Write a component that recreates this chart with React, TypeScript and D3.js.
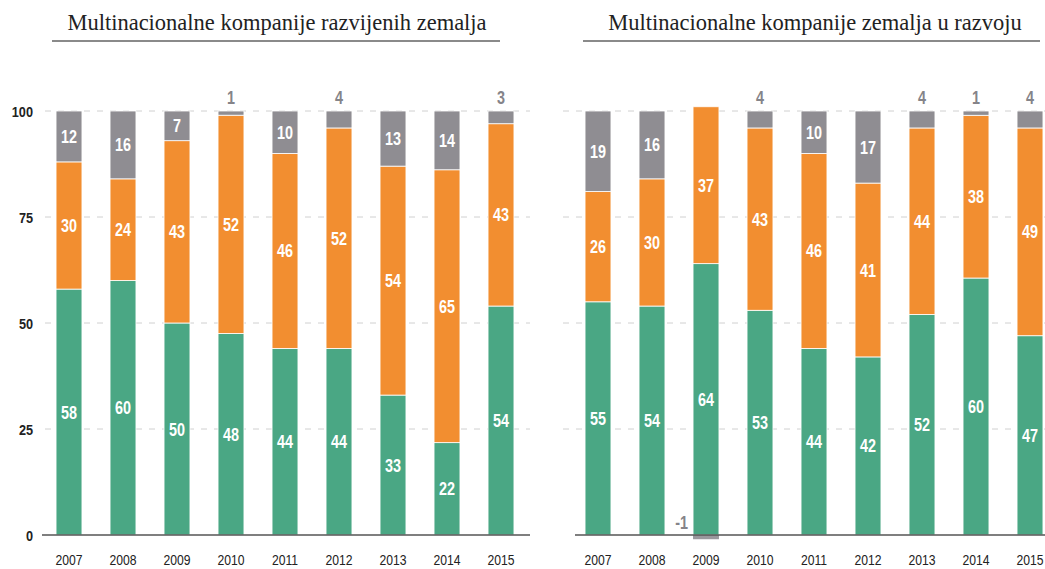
import React from "react";
import * as d3 from "d3";

const years = ["2007", "2008", "2009", "2010", "2011", "2012", "2013", "2014", "2015"];
const devGreen = [58, 60, 50, 48, 44, 44, 33, 22, 54];
const devOrange = [30, 24, 43, 52, 46, 52, 54, 65, 43];
const devGray = [12, 16, 7, 1, 10, 4, 13, 14, 3];
const dvgGreen = [55, 54, 64, 53, 44, 42, 52, 60, 47];
const dvgOrange = [26, 30, 37, 43, 46, 41, 44, 38, 49];
const dvgGray = [19, 16, -1, 4, 10, 17, 4, 1, 4];
const yTicks = [0, 25, 50, 75, 100];
const titles = ["Multinacionalne kompanije razvijenih zemalja", "Multinacionalne kompanije zemalja u razvoju"];

const W = 1045, H = 569;
const GREEN = "#4aa784", ORANGE = "#f28e30", GRAY = "#8f8d92";
const NUM_FONT = "'Liberation Sans', Arial, sans-serif";

const y = d3.scaleLinear().domain([0, 100]).range([535, 111]);

type CTProps = { x: number; y: number; anchor?: string; size: number; fill: string; bold?: boolean; sx?: number; children: React.ReactNode };
function CT({ x, y, anchor = "middle", size, fill, bold = true, sx = 0.8, children }: CTProps) {
  return (
    <text transform={`translate(${x},${y}) scale(${sx},1)`} textAnchor={anchor as any} fontFamily={NUM_FONT}
      fontWeight={bold ? "bold" : "normal"} fontSize={size} fill={fill}>{children}</text>
  );
}

type PanelProps = {
  title: string; green: number[]; orange: number[]; gray: number[];
  x0: number; x1: number; gridX0: number; gridX1: number; axisX0: number; axisX1: number;
  titleX: number; lineX0: number; lineX1: number; showY: boolean;
};

function Panel(p: PanelProps) {
  const x = d3.scaleBand<string>().domain(years).range([p.x0, p.x1]).paddingInner(0.52).paddingOuter(0.26);
  const bw = x.bandwidth();
  return (
    <g>
      <text x={p.titleX} y={30} textAnchor="middle" fontFamily="'Liberation Serif', 'Times New Roman', serif" fontSize={22.5} fill="#222">{p.title}</text>
      <line x1={p.lineX0} x2={p.lineX1} y1={41} y2={41} stroke="#8a8a8a" strokeWidth={2.2} />
      {yTicks.filter(t => t > 0).map(t => (
        <line key={t} x1={p.gridX0} x2={p.gridX1} y1={y(t)} y2={y(t)} stroke="#d0d0d0" strokeWidth={1} strokeDasharray="6,7" />
      ))}
      {p.showY && yTicks.map(t => (
        <CT key={t} x={33} y={y(t) + 5.5} anchor="end" size={15.5} fill="#222" sx={0.82}>{t}</CT>
      ))}
      {years.map((yr, i) => {
        const g = p.green[i], o = p.orange[i], gr = p.gray[i];
        const pos = g + o + Math.max(gr, 0);
        const k = gr >= 0 ? 100 / pos : 1;
        const gTop = g * k, oTop = gTop + o * k, grTop = oTop + Math.max(gr, 0) * k;
        const bx = x(yr)!;
        const cx = bx + bw / 2;
        const segs = [
          { a: 0, b: gTop, c: GREEN, v: g },
          { a: gTop, b: oTop, c: ORANGE, v: o },
        ];
        return (
          <g key={yr}>
            {segs.map((s, j) => (
              <rect key={j} x={bx} width={bw} y={y(s.b)} height={y(s.a) - y(s.b)} fill={s.c} stroke="#fff" strokeWidth={0.8} />
            ))}
            {gr > 0 && <rect x={bx} width={bw} y={y(grTop)} height={y(oTop) - y(grTop)} fill={GRAY} stroke="#fff" strokeWidth={0.8} />}
            {gr < 0 && <rect x={bx} width={bw} y={y(0)} height={y(gr) - y(0)} fill="#9a989d" />}
            {segs.map((s, j) => (
              <CT key={"t" + j} x={cx} y={y((s.a + s.b) / 2) + 6.5} size={18} fill="#fff">{s.v}</CT>
            ))}
            {gr >= 5 && <CT x={cx} y={y((oTop + grTop) / 2) + 6.5} size={18} fill="#fff">{gr}</CT>}
            {gr > 0 && gr < 5 && <CT x={cx} y={y(grTop) - 7} size={18} fill="#858489">{gr}</CT>}
            {gr < 0 && <CT x={bx - 5} y={y(0) - 6} anchor="end" size={18} fill="#858489">{gr}</CT>}
            <CT x={cx} y={565} size={14.5} fill="#222" bold={false} sx={0.84}>{yr}</CT>
          </g>
        );
      })}
      <line x1={p.axisX0} x2={p.axisX1} y1={y(0)} y2={y(0)} stroke="#555" strokeWidth={1.5} />
    </g>
  );
}

export default function App() {
  return (
    <svg width={W} height={H} style={{ position: "absolute", left: 0, top: 0, background: "#fff" }}>
      <Panel title={titles[0]} green={devGreen} orange={devOrange} gray={devGray}
        x0={42} x1={528} gridX0={45} gridX1={530} axisX0={42} axisX1={530}
        titleX={277} lineX0={52} lineX1={500} showY={true} />
      <Panel title={titles[1]} green={dvgGreen} orange={dvgOrange} gray={dvgGray}
        x0={571} x1={1057} gridX0={563} gridX1={1045} axisX0={575} axisX1={1045}
        titleX={815} lineX0={583} lineX1={1040} showY={false} />
    </svg>
  );
}
